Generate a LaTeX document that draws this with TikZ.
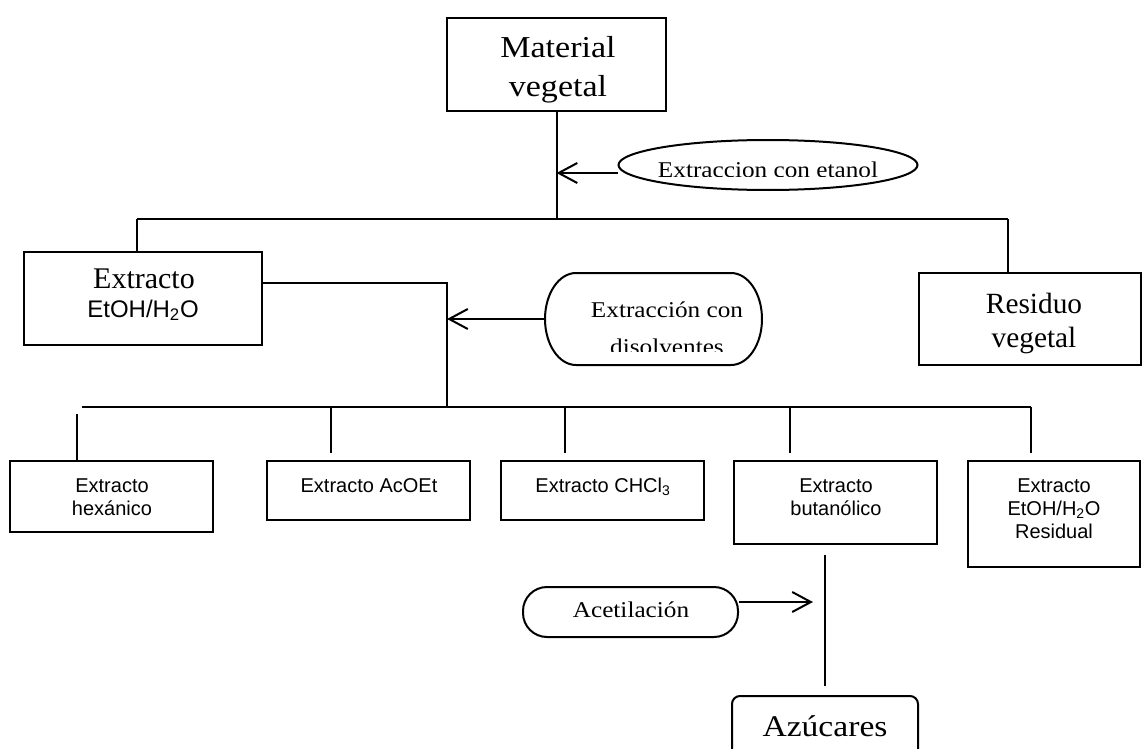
\documentclass[tikz,border=0pt]{standalone}
\usepackage{fontspec}
\setmainfont{Liberation Serif}
\newfontfamily\palfam[FakeStretch=1.12]{Liberation Serif}
\newfontfamily\arifam{Liberation Sans}
\usetikzlibrary{arrows.meta,fit,shapes.geometric}

% font helpers: wide book face, Times-like and Arial-like faces
\newcommand\palfont[2]{\palfam\fontsize{#1}{#2}\selectfont}
\newcommand\timfont[2]{\rmfamily\fontsize{#1}{#2}\selectfont}
\newcommand\arifont[2]{\arifam\fontsize{#1}{#2}\selectfont}

\begin{document}
\begin{tikzpicture}[x=0.75pt,y=-0.75pt,
  line/.style={line width=1.5pt},
  box/.style={draw, line width=1.5pt, rectangle, inner sep=0pt},
  arr/.style={line width=1.5pt, -{Straight Barb[length=14pt,width=15pt,line width=1.5pt]}},
  txt/.style={inner sep=0pt, anchor=base},
  small/.style={txt, font=\arifont{15pt}{17.25pt}},
  callout/.style={txt, font=\palfont{16.9pt}{27.75pt}}
]
\useasboundingbox (0,0) rectangle (1143,749);
\clip (0,0) rectangle (1143,749);

% ---------- top level ----------
\node[box, fit={(447,18) (666,111)}] (mat) {};
\node[txt, font=\palfont{22.8pt}{29.25pt}] (matt) at (558,58)
  {\begin{tabular}[t]{@{}c@{}}Material\\vegetal\end{tabular}};

\node[draw, line width=1.5pt, ellipse, inner sep=0pt,
      minimum width={299*0.75pt}, minimum height={50*0.75pt}] (etanol) at (768,165) {};
\begin{scope}
  \clip (620,140) rectangle (918,176);
  \node[callout] (etanolt) at (768,177) {Extraccion con etanol};
\end{scope}

\coordinate (t1) at (mat.south |- 0,219);
\coordinate (j1) at (mat.south |- 0,173);
\draw[line] (mat.south) -- (t1);
\draw[arr] (etanol.west |- j1) -- (j1);

% first split
\node[box, fit={(24,252) (262,345)}] (ext) {};
\node[txt, font=\timfont{22.5pt}{26pt}] (extt) at (144,288) {Extracto};
\node[txt, font=\arifont{18pt}{21pt}] (extf) at (143,317) {EtOH/H\textsubscript{2}O};

\node[box, fit={(919,273) (1141,365)}] (res) {};
\node[txt, font=\timfont{22pt}{25.5pt}] (rest) at (1034,313)
  {\begin{tabular}[t]{@{}c@{}}Residuo\\vegetal\end{tabular}};

\coordinate (tL) at (137,219);
\coordinate (tR) at (1008,219);
\draw[line] (tL) -- (tR);
\draw[line] (tL) -- (tL |- ext.north);
\draw[line] (tR) -- (tR |- res.north);

% solvent partition
\coordinate (k1) at (447,283);
\coordinate (k2) at (447,407);
\draw[line] (ext.east |- k1) -- (k1) -- (k2);

\node[inner sep=0pt, fit={(545,273) (762,365)}] (dis) {};
\draw[line] (576,273) -- (731,273)
  .. controls (748.1,273) and (762,293.6) .. (762,319)
  .. controls (762,344.4) and (748.1,365) .. (731,365)
  -- (576,365)
  .. controls (558.9,365) and (545,344.4) .. (545,319)
  .. controls (545,293.6) and (558.9,273) .. (576,273) -- cycle;
\begin{scope}
  \clip (550,280) rectangle (760,351);
  \node[callout] (dist) at (667,317)
    {\begin{tabular}[t]{@{}c@{}}Extracción con\\disolventes\end{tabular}};
\end{scope}
\coordinate (j2) at (447,319);
\draw[arr] (dis.west |- j2) -- (j2);

% ---------- fractions ----------
\node[box, fit={(10,461) (213,532)}] (hex) {};
\node[box, fit={(267,461) (470,520)}] (acoet) {};
\node[box, fit={(501,461) (704,520)}] (chcl) {};
\node[box, fit={(734,461) (937,544)}] (buta) {};
\node[box, fit={(968,461) (1140,567)}] (resid) {};

\node[small] (hext) at (112,492)
  {\begin{tabular}[t]{@{}c@{}}Extracto\\hexánico\end{tabular}};
\node[small] (acoett) at (369,492) {Extracto AcOEt};
\node[small] (chclt) at (603,492) {Extracto CHCl\textsubscript{3}};
\node[small] (butat) at (836,492)
  {\begin{tabular}[t]{@{}c@{}}Extracto\\butanólico\end{tabular}};
\node[small] (residt) at (1054,492)
  {\begin{tabular}[t]{@{}c@{}}Extracto\\EtOH/H\textsubscript{2}O\\Residual\end{tabular}};

\coordinate (b0) at (82,407);
\coordinate (b1) at (1031,407);
\draw[line] (b0) -- (b1);
\coordinate (h0) at (77,414);
\draw[line] (h0) -- (h0 |- hex.north);
\coordinate (a0) at (331,407);
\coordinate (c0) at (565,407);
\coordinate (u0) at (790,407);
\draw[line, shorten >=5.25pt] (a0) -- (a0 |- acoet.north);
\draw[line, shorten >=5.25pt] (c0) -- (c0 |- chcl.north);
\draw[line, shorten >=5.25pt] (u0) -- (u0 |- buta.north);
\draw[line, shorten >=5.25pt] (b1) -- (b1 |- resid.north);

% ---------- acetylation ----------
\node[draw, line width=1.5pt, inner sep=0pt, rounded corners=18pt,
      fit={(523,587) (738,637)}] (acet) {};
\node[callout] (acett) at (631,617) {Acetilación};

\node[draw, line width=1.5pt, inner sep=0pt, rounded corners=6pt,
      fit={(732,696) (918,780)}] (azu) {};
\node[txt, font=\palfont{22.5pt}{28pt}] (azut) at (825,736) {Azúcares};

\coordinate (j3) at (813,602);
\draw[line, shorten <=7.5pt, shorten >=6.75pt] (azu.north |- buta.south) -- (azu.north);
\draw[arr] (acet.east |- j3) -- (j3);
\end{tikzpicture}
\end{document}
